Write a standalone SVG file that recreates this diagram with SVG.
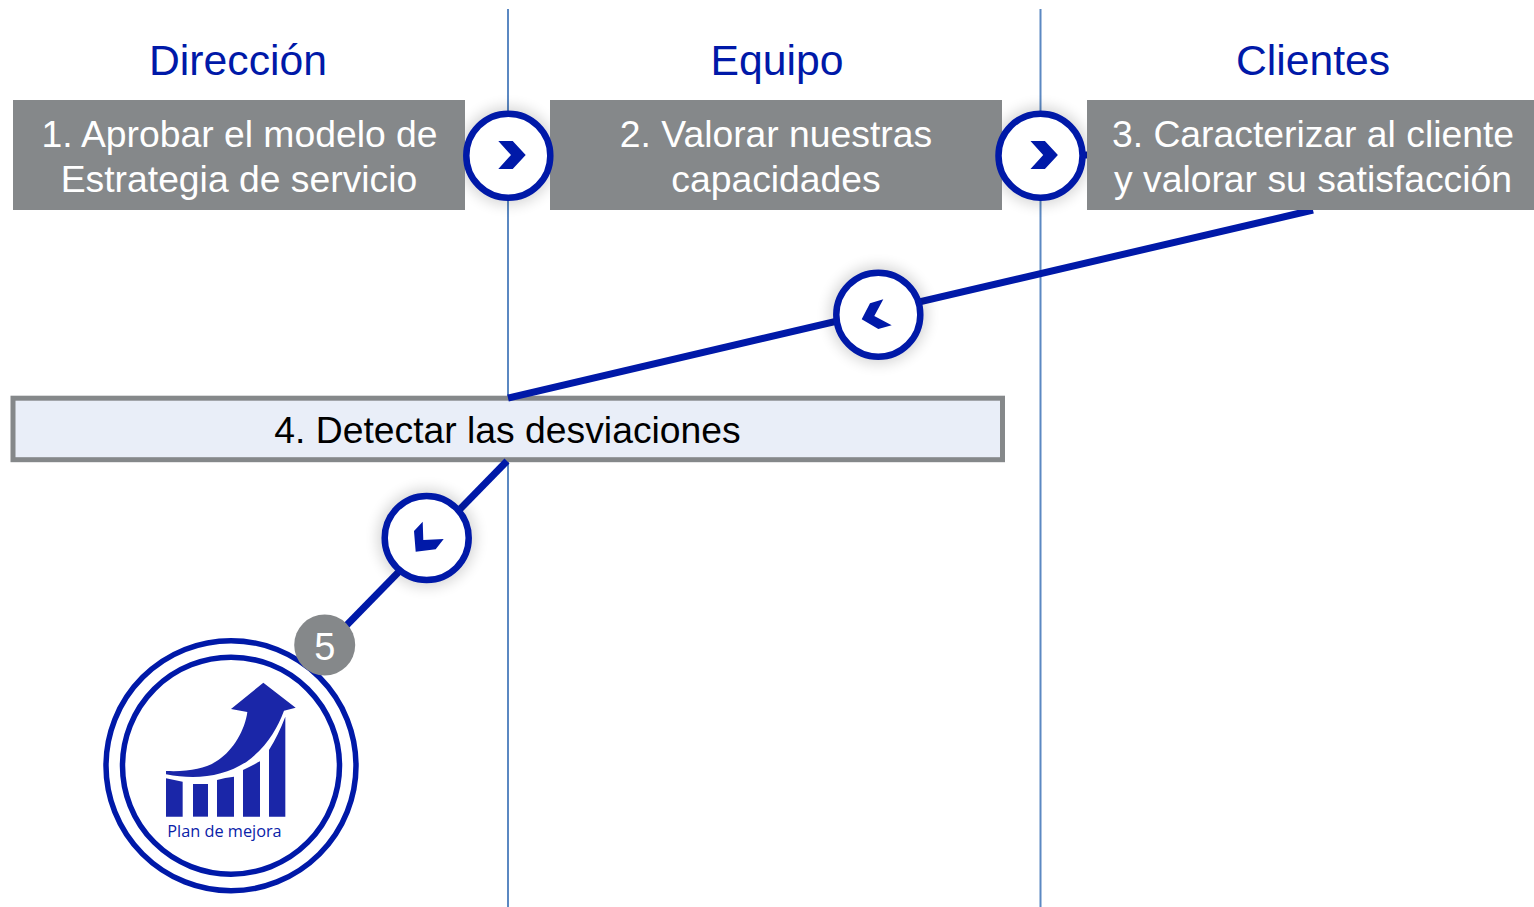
<svg xmlns="http://www.w3.org/2000/svg" width="1534" height="907" viewBox="0 0 1534 907">
<style>
text{font-family:"Liberation Sans",Arial,sans-serif;text-anchor:middle}
.h{font-size:42.700px;fill:#0019a8}
.w{font-size:37.300px;fill:#fff}
.box{fill:#85888a}
.lane{stroke:#5b88c2;stroke-width:2;fill:none}
.con{stroke:#0019a8;stroke-width:7;fill:none}
.ring{fill:#fff;stroke:#0019a8;stroke-width:6.500}
.chev{fill:#0019a8}
.ic{fill:#1a26a8}
.sh{fill:#000;opacity:.16}
</style>
<defs><filter id="s" x="-50%" y="-50%" width="200%" height="200%"><feGaussianBlur stdDeviation="7"/></filter></defs>
<g id="lanes">
<path class="lane" d="M508 9V907"/>
<path class="lane" d="M1040.500 9V907"/>
</g>
<g id="h1"><text class="h" x="238" y="75">Dirección</text></g>
<g id="h2"><text class="h" x="777" y="75">Equipo</text></g>
<g id="h3"><text class="h" x="1313" y="75">Clientes</text></g>
<g id="n4"><rect x="13" y="398.200" width="989.500" height="61.500" fill="#e9eef8" stroke="#85888a" stroke-width="5"/><text x="507.500" y="442.500" font-size="37.300" fill="#000">4. Detectar las desviaciones</text></g>
<g id="connectors">
<path class="con" d="M1313 210L508 398"/>
<path class="con" d="M507 461L340 632"/>
<path class="con" d="M1080 155h8"/>
</g>
<g id="shadows">
<circle class="sh" cx="508.300" cy="155.700" r="49" filter="url(#s)"/>
<circle class="sh" cx="1040.500" cy="155.700" r="49" filter="url(#s)"/>
<circle class="sh" cx="878.300" cy="314.700" r="49" filter="url(#s)"/>
<circle class="sh" cx="426.700" cy="538" r="49" filter="url(#s)"/>
</g>
<g id="n1"><rect class="box" x="13" y="100" width="452" height="110"/><text class="w" x="239.500" y="147">1. Aprobar el modelo de</text><text class="w" x="239" y="192">Estrategia de servicio</text></g>
<g id="n2"><rect class="box" x="550" y="100" width="452" height="110"/><text class="w" x="776" y="147">2. Valorar nuestras</text><text class="w" x="776" y="192">capacidades</text></g>
<g id="n3"><rect class="box" x="1087" y="100" width="447" height="110"/><text class="w" x="1313" y="147">3. Caracterizar al cliente</text><text class="w" x="1313" y="192">y valorar su satisfacción</text></g>
<g id="c1"><circle class="ring" cx="508.300" cy="155.700" r="42"/><path class="chev" d="M498.300 141H512.700L525.700 155L512.700 169H498.300L511 155Z"/></g>
<g id="c2"><circle class="ring" cx="1040.500" cy="155.700" r="42"/><path class="chev" d="M1030.500 141H1044.900L1057.900 155L1044.900 169H1030.500L1043.200 155Z"/></g>
<g id="c3"><circle class="ring" cx="878.300" cy="314.700" r="42"/><path class="chev" d="M883.300 299.300L870 303.300L861.700 319.300L878.300 329L891.700 325.300L874.300 316Z"/></g>
<g id="c4"><circle class="ring" cx="426.700" cy="538" r="42"/><path class="chev" d="M422.700 521.700L414 531L415.700 551.700L435.700 549.300L443.700 539L423.300 540Z"/></g>
<g id="n5">
<circle cx="231" cy="765.700" r="125" fill="#fff" stroke="#0019a8" stroke-width="5.500"/>
<circle cx="231" cy="765.700" r="108.500" fill="#fff" stroke="#0019a8" stroke-width="5.500"/>
<g transform="translate(90 600) scale(.33333)">
<path class="ic" d="M228 513C300 516 350 505 385 480C430 450 465 390 472 336L423 327L520 248L617 323L582 332C560 390 530 440 470 485C400 530 320 540 228 523Z"/>
<path class="ic" d="M228 535L278 545V650H228Z"/>
<path class="ic" d="M309 552H354V650H309Z"/>
<path class="ic" d="M381 540Q405 532 432 530V650H381Z"/>
<path class="ic" d="M459 510Q485 497 510 484V650H459Z"/>
<path class="ic" d="M537 450Q565 405 586 350V650H537Z"/>
</g>
<text x="224.500" y="837" font-size="16.300" fill="#0a22a8" style="font-family:'Open Sans','Noto Sans',sans-serif">Plan de mejora</text>
<circle cx="324.700" cy="645" r="30.500" fill="#85888a"/>
<text x="324.700" y="660" font-size="38" fill="#fff">5</text>
</g>
</svg>
